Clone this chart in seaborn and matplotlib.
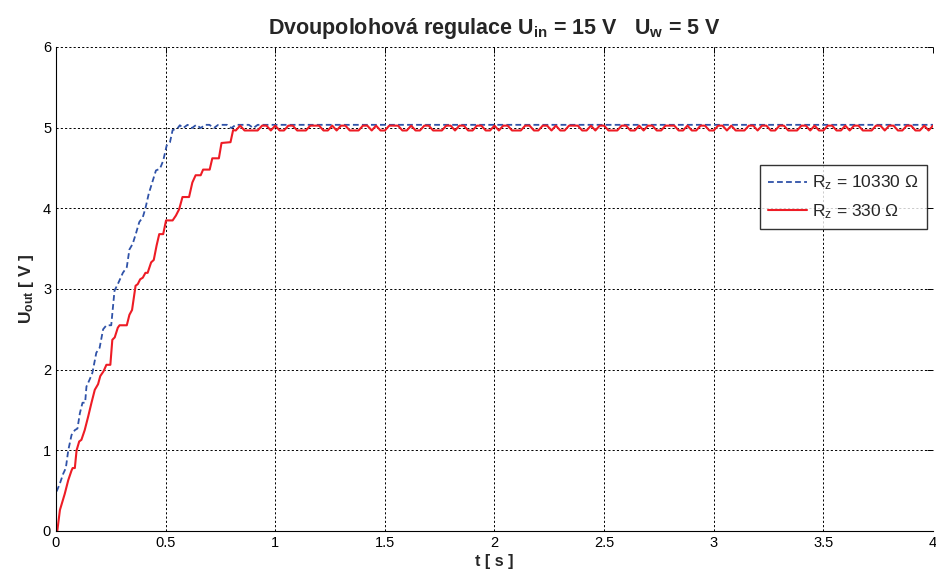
import numpy as np
import pandas as pd
import matplotlib
matplotlib.use("Agg")
import matplotlib.pyplot as plt
import seaborn as sns

# ---- data ----
# red (R_z = 330 ohm) rising part
red_t = [0.006, 0.018, 0.040, 0.056, 0.071, 0.076, 0.086, 0.094, 0.106, 0.116, 0.131,
         0.147, 0.162, 0.177, 0.192, 0.202, 0.217, 0.230, 0.248, 0.257, 0.268, 0.282,
         0.290, 0.323, 0.335, 0.347, 0.363, 0.373, 0.384, 0.396, 0.408, 0.418, 0.434,
         0.446, 0.459, 0.471, 0.489, 0.502, 0.532, 0.547, 0.562, 0.577, 0.607, 0.622,
         0.637, 0.660, 0.671, 0.701, 0.713, 0.743, 0.755, 0.796, 0.808]
red_v = [0.00, 0.26, 0.46, 0.63, 0.75, 0.78, 0.78, 1.00, 1.11, 1.13, 1.25,
         1.42, 1.59, 1.75, 1.82, 1.92, 1.98, 2.06, 2.06, 2.37, 2.40, 2.52,
         2.55, 2.55, 2.68, 2.74, 3.04, 3.06, 3.12, 3.14, 3.20, 3.20, 3.33,
         3.36, 3.54, 3.68, 3.68, 3.85, 3.85, 3.91, 3.99, 4.14, 4.14, 4.32,
         4.41, 4.41, 4.48, 4.48, 4.62, 4.62, 4.81, 4.82, 4.97]
# red steady state: levels every 0.02 s starting at 0.82 s (L = low, H = high)
red_ss_start = 0.82
red_ss_levels = ("LHLLLLHHLHLLHHLLLHHHLLHLHHLLLHHLHLLHHHLLHLLHHLLLHHLHHLLHHLLHLHHLLL"
                 "HHLLHHLHLLHHHLLHLHHLLLHHLLHLHHLLHHHLLHLLHHLLHHLHLLLHHLHHLLHHLLLHHL"
                 "HLLHHLLHLHHLLLHHLHHLLHHLLHLHHLL")
red_level_v = {"L": 4.965, "H": 5.025}

# blue (R_z = 10330 ohm) rising part
blue_t = [0.003, 0.018, 0.033, 0.045, 0.056, 0.071, 0.086, 0.098, 0.109, 0.121, 0.133,
          0.139, 0.154, 0.166, 0.184, 0.199, 0.215, 0.230, 0.252, 0.267, 0.282, 0.305,
          0.323, 0.335, 0.350, 0.366, 0.380, 0.396, 0.408, 0.423, 0.441, 0.456, 0.474,
          0.489, 0.505, 0.520, 0.532, 0.554, 0.565]
blue_v = [0.49, 0.59, 0.71, 0.78, 1.00, 1.19, 1.25, 1.27, 1.46, 1.59, 1.59,
          1.79, 1.88, 1.96, 2.21, 2.27, 2.50, 2.55, 2.55, 2.98, 3.06, 3.20,
          3.27, 3.49, 3.56, 3.70, 3.83, 3.89, 4.00, 4.18, 4.34, 4.47, 4.49,
          4.59, 4.78, 4.82, 4.97, 4.99, 5.03]
# blue steady state: levels every 0.02 s starting at 0.58 s (H = high, V = small dip)
blue_ss_start = 0.58
blue_ss_levels = ("VHVHVHHVHHHVHHHHVHHHHHHHHHHHHHHHHHHHHHHHHHHHHHHHHHHHHHHHHHHHHHHHHH"
                  "HHHHHHHHHHHHHHHHHHHHHHHHHHHHHHHHHHHHHHHHHHHHHHHHHHHHHHHHHHHHHHHHHH"
                  "HHHHHHHHHHHHHHHHHHHHHHHHHHHHHHHHHHHHHHHHHHHHHHHHHHHH")
blue_level_v = {"H": 5.035, "V": 4.995}

x_ticks = [0, 0.5, 1, 1.5, 2, 2.5, 3, 3.5, 4]
x_tick_labels = ["0", "0.5", "1", "1.5", "2", "2.5", "3", "3.5", "4"]
y_ticks = [0, 1, 2, 3, 4, 5, 6]

legend_blue = "R$_{z}$ = 10330 Ω"
legend_red = "R$_{z}$ = 330 Ω"
title = "Dvoupolohová regulace U$_{\\mathbf{in}}$ = 15 V   U$_{\\mathbf{w}}$ = 5 V"

# ---- build series ----
rt = list(red_t) + [red_ss_start + 0.02 * i for i in range(len(red_ss_levels))]
rv = list(red_v) + [red_level_v[c] for c in red_ss_levels]
bt = list(blue_t) + [blue_ss_start + 0.02 * i for i in range(len(blue_ss_levels))]
bv = list(blue_v) + [blue_level_v[c] for c in blue_ss_levels]
df_red = pd.DataFrame({"t": rt, "u": rv})
df_blue = pd.DataFrame({"t": bt, "u": bv})

sns.set_style("white")
plt.rcParams["font.family"] = ["Liberation Sans", "DejaVu Sans"]
plt.rcParams["mathtext.fontset"] = "custom"
plt.rcParams["mathtext.rm"] = "Liberation Sans"
plt.rcParams["mathtext.bf"] = "Liberation Sans:bold"
plt.rcParams["mathtext.default"] = "regular"

fig = plt.figure(figsize=(9.36, 5.71), dpi=100)
ax = fig.add_axes([0.0598, 0.0701, 0.9370, 0.8476])

sns.lineplot(data=df_blue, x="t", y="u", ax=ax, color="#2f52a8", linewidth=1.3,
             linestyle=(0, (3.2, 1.8)), label=legend_blue, sort=False, estimator=None)
sns.lineplot(data=df_red, x="t", y="u", ax=ax, color="#ee1c25", linewidth=1.5,
             label=legend_red, sort=False, estimator=None)

ax.set_xlim(0, 4)
ax.set_ylim(0, 6)
ax.set_xticks(x_ticks)
ax.set_xticklabels(x_tick_labels)
ax.set_yticks(y_ticks)
ax.grid(True, color="black", linestyle=(0, (2.2, 2.2)), linewidth=0.7)
ax.tick_params(direction="in", length=4, width=0.7, labelsize=10.5, top=True, right=True,
               colors="black")
for name, s in ax.spines.items():
    s.set_color("black")
    s.set_linewidth(0.8)
ax.spines["top"].set_visible(False)
ax.spines["right"].set_visible(False)

ax.set_xlabel("t [ s ]", fontsize=11.5, fontweight="bold", labelpad=3)
ax.set_ylabel("U$_{\\mathbf{out}}$ [ V ]", fontsize=12.5, fontweight="bold", labelpad=5)
ax.set_title(title, fontsize=15.5, fontweight="bold", pad=9)

leg = ax.legend(loc="upper right", bbox_to_anchor=(0.999, 0.767), frameon=True,
                fancybox=False, edgecolor="black", fontsize=12.5, handlelength=2.2,
                borderpad=0.5, labelspacing=0.55, handletextpad=0.3, borderaxespad=0.3)
leg.get_frame().set_linewidth(1.0)

fig.savefig("out.png", dpi=100)
